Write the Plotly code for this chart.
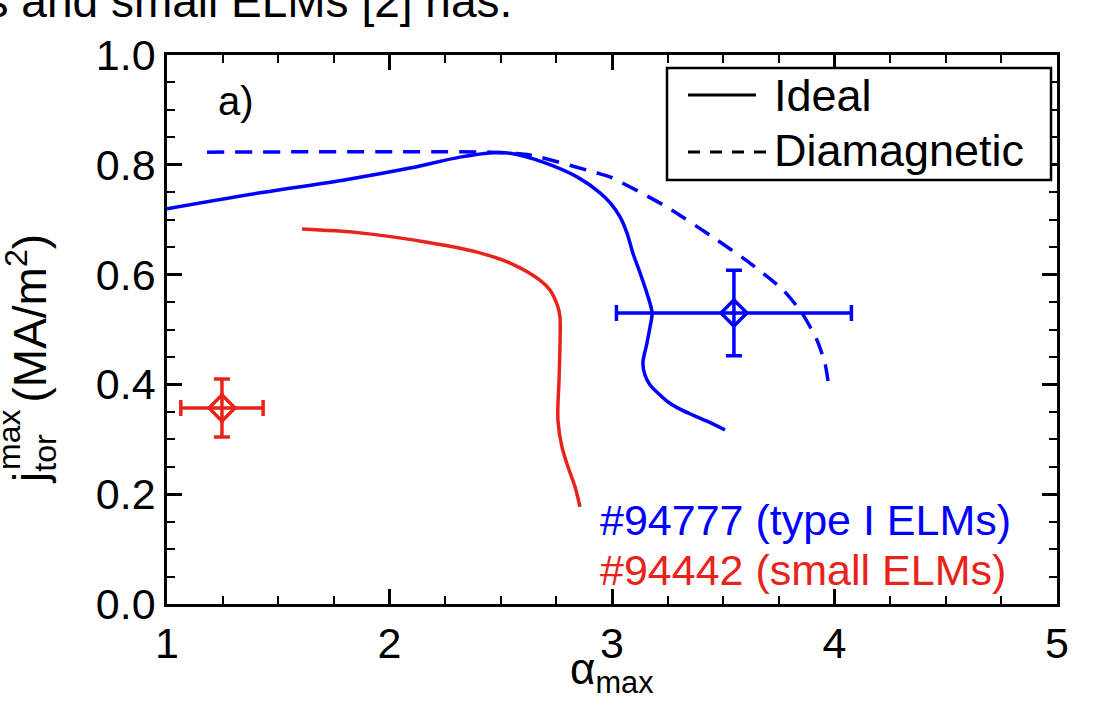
import plotly.graph_objects as go

# ---------------- data ----------------
ideal_94777_x = [1.0, 1.418, 1.791, 2.092, 2.317, 2.465, 2.542, 2.690, 2.843, 2.946, 2.991, 3.036,
                 3.067, 3.094, 3.126, 3.157, 3.180, 3.171, 3.157, 3.139, 3.148, 3.171, 3.207,
                 3.252, 3.306, 3.364, 3.427, 3.508]
ideal_94777_y = [0.720, 0.749, 0.772, 0.794, 0.814, 0.822, 0.821, 0.805, 0.778, 0.749, 0.731, 0.705,
                 0.676, 0.639, 0.603, 0.566, 0.530, 0.505, 0.475, 0.439, 0.417, 0.399, 0.384,
                 0.368, 0.355, 0.344, 0.333, 0.317]

diam_94777_x = [1.18, 2.452, 2.631, 2.933, 2.991, 3.247, 3.472, 3.620, 3.769, 3.854, 3.921, 3.957, 3.975]
diam_94777_y = [0.823, 0.823, 0.818, 0.785, 0.778, 0.723, 0.663, 0.621, 0.572, 0.530, 0.481,
                0.439, 0.395]

ideal_94442_x = [1.607, 1.867, 2.169, 2.393, 2.542, 2.676, 2.721, 2.757, 2.766, 2.766, 2.762,
                 2.757, 2.775, 2.802, 2.834, 2.856]
ideal_94442_y = [0.683, 0.676, 0.659, 0.641, 0.621, 0.590, 0.572, 0.541, 0.523, 0.468, 0.408,
                 0.335, 0.286, 0.250, 0.213, 0.177]

exp_94777_x, exp_94777_y = [3.548], [0.530]
exp_94777_xerr, exp_94777_yerr = [0.528], [0.078]
exp_94442_x, exp_94442_y = [1.247], [0.357]
exp_94442_xerr, exp_94442_yerr = [0.185], [0.053]

x_ticks = [1, 2, 3, 4, 5]
y_ticks = [0.0, 0.2, 0.4, 0.6, 0.8, 1.0]
y_tick_labels = ["0.0", "0.2", "0.4", "0.6", "0.8", "1.0"]

BLUE = "#0000FF"
RED = "#E8231A"
FONT = "Liberation Sans, Arial, Helvetica, sans-serif"

fig = go.Figure()

fig.add_trace(go.Scatter(x=diam_94777_x, y=diam_94777_y, mode="lines",
                         line=dict(color=BLUE, width=3.5, dash="17px,11px", shape="spline", smoothing=0.6),
                         showlegend=False))
fig.add_trace(go.Scatter(x=ideal_94777_x, y=ideal_94777_y, mode="lines",
                         line=dict(color=BLUE, width=3.5, shape="spline", smoothing=1.0),
                         showlegend=False))
fig.add_trace(go.Scatter(x=ideal_94442_x, y=ideal_94442_y, mode="lines",
                         line=dict(color=RED, width=3.5, shape="spline", smoothing=1.0),
                         showlegend=False))

for ex, ey, exe, eye, col in [(exp_94777_x, exp_94777_y, exp_94777_xerr, exp_94777_yerr, BLUE),
                              (exp_94442_x, exp_94442_y, exp_94442_xerr, exp_94442_yerr, RED)]:
    fig.add_trace(go.Scatter(
        x=ex, y=ey, mode="markers",
        marker=dict(symbol="diamond-open", size=20, color=col, line=dict(width=3.5, color=col)),
        error_x=dict(type="data", array=exe, color=col, thickness=3.5, width=8),
        error_y=dict(type="data", array=eye, color=col, thickness=3.5, width=8),
        showlegend=False))

# plot area px: x 167..1057, y 55..604
def px_x(p):
    return (p - 167) / 890.0

def px_y(p):
    return (604 - p) / 549.0

shapes = [
    dict(type="rect", xref="paper", yref="paper", x0=px_x(667), x1=px_x(1051),
         y0=px_y(180), y1=px_y(68), line=dict(color="black", width=2.5), fillcolor="white",
         layer="above"),
    dict(type="line", xref="paper", yref="paper", x0=px_x(688), x1=px_x(756),
         y0=px_y(95), y1=px_y(95), line=dict(color="black", width=3), layer="above"),
    dict(type="line", xref="paper", yref="paper", x0=px_x(688), x1=px_x(766),
         y0=px_y(152), y1=px_y(152), line=dict(color="black", width=3, dash="12px,10px"),
         layer="above"),
]

annotations = [
    dict(text="Ideal", xref="paper", yref="paper", x=px_x(772), y=px_y(95),
         xanchor="left", yanchor="middle", showarrow=False, font=dict(size=45, color="black", family=FONT)),
    dict(text="Diamagnetic", xref="paper", yref="paper", x=px_x(772), y=px_y(150),
         xanchor="left", yanchor="middle", showarrow=False, font=dict(size=45, color="black", family=FONT)),
    dict(text="a)", xref="paper", yref="paper", x=px_x(216), y=px_y(101),
         xanchor="left", yanchor="middle", showarrow=False, font=dict(size=40, color="black", family=FONT)),
    dict(text="#94777 (type I ELMs)", xref="paper", yref="paper", x=px_x(598), y=px_y(520),
         xanchor="left", yanchor="middle", showarrow=False, font=dict(size=43, color=BLUE, family=FONT)),
    dict(text="#94442 (small ELMs)", xref="paper", yref="paper", x=px_x(598), y=px_y(570),
         xanchor="left", yanchor="middle", showarrow=False, font=dict(size=43, color=RED, family=FONT)),
    dict(text="α<sub>max</sub>", xref="paper", yref="paper", x=px_x(612), y=px_y(672),
         xanchor="center", yanchor="middle", showarrow=False, font=dict(size=44, color="black", family=FONT)),
    # y-axis title: j_tor^max (MA/m^2), built from three rotated pieces
    dict(text="j<sub>tor</sub>", xref="paper", yref="paper", x=px_x(33), y=px_y(486),
         xanchor="center", yanchor="bottom", textangle=-90, showarrow=False,
         font=dict(size=46, color="black", family=FONT)),
    dict(text="max", xref="paper", yref="paper", x=px_x(9), y=px_y(440),
         xanchor="center", yanchor="middle", textangle=-90, showarrow=False,
         font=dict(size=32, color="black", family=FONT)),
    dict(text="(MA/m<sup>2</sup>)", xref="paper", yref="paper", x=px_x(26), y=px_y(405),
         xanchor="center", yanchor="bottom", textangle=-90, showarrow=False,
         font=dict(size=46, color="black", family=FONT)),
    dict(text="es and small ELMs [2] has.", xref="paper", yref="paper", x=px_x(-42), y=px_y(1),
         xanchor="left", yanchor="middle", showarrow=False, font=dict(size=46, color="black", family=FONT)),
]

axis_common = dict(showline=True, linewidth=2.5, linecolor="black", mirror="allticks",
                   ticks="inside", ticklen=15, tickwidth=2.5, tickcolor="black",
                   showgrid=False, zeroline=False,
                   tickfont=dict(size=43, color="black", family=FONT))

fig.update_xaxes(range=[1, 5], tickvals=x_ticks, ticktext=[str(v) for v in x_ticks],
                 minor=dict(dtick=0.25, ticks="inside", ticklen=8, tickwidth=2, tickcolor="black",
                            showgrid=False),
                 **axis_common)
fig.update_yaxes(range=[0, 1.0], tickvals=y_ticks, ticktext=y_tick_labels,
                 minor=dict(dtick=0.05, ticks="inside", ticklen=8, tickwidth=2, tickcolor="black",
                            showgrid=False),
                 **axis_common)

fig.update_layout(width=1114, height=718,
                  margin=dict(l=167, r=57, t=55, b=114, pad=0),
                  plot_bgcolor="white", paper_bgcolor="white",
                  shapes=shapes, annotations=annotations, showlegend=False,
                  font=dict(family=FONT, color="black"))

fig.write_html("out.html", config={"displayModeBar": False},
               post_script="document.body.style.margin='0';")
